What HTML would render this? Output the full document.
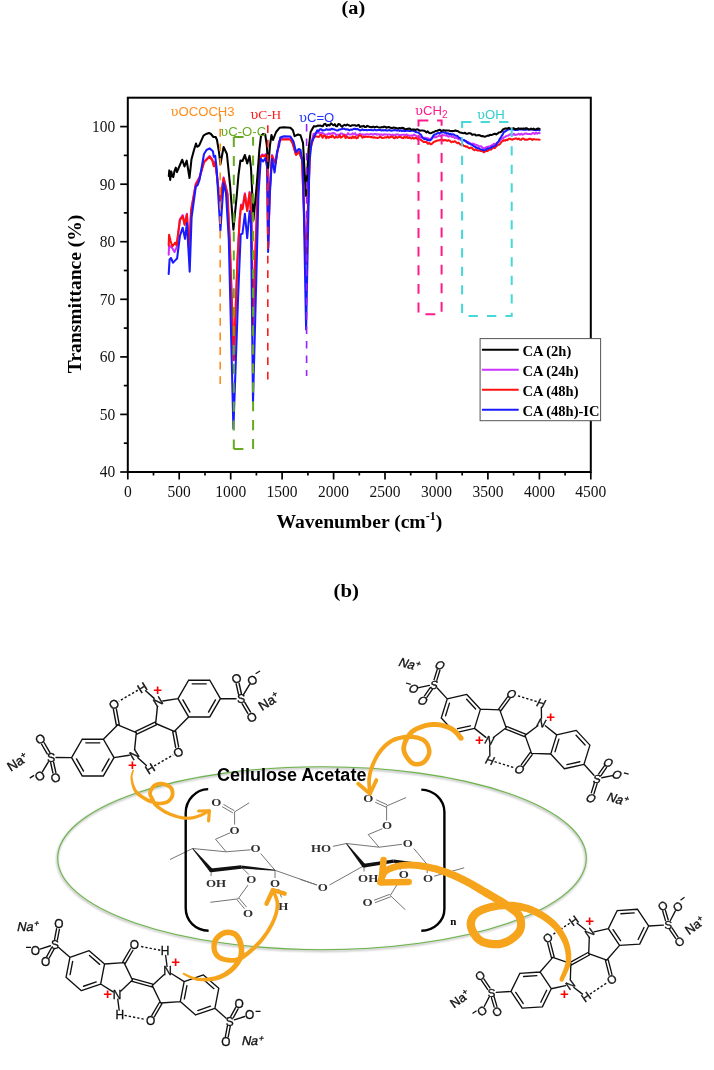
<!DOCTYPE html>
<html><head><meta charset="utf-8"><title>FTIR and interaction scheme</title>
<style>html,body{margin:0;padding:0;background:#fff;}svg{display:block;}</style></head>
<body><svg width="714" height="1070" viewBox="0 0 714 1070">
<rect width="714" height="1070" fill="#fff"/>
<text x="353.4" y="14.0" font-family="'Liberation Serif','Times New Roman',serif" font-weight="bold" font-size="18" text-anchor="middle" textLength="23.6" lengthAdjust="spacingAndGlyphs">(a)</text>
<g fill="none" stroke-width="2.05" stroke-linejoin="round" stroke-linecap="round">
<polyline points="168.7,254.8 169.1,245.4 172.4,248.2 174.5,252 176.6,247.3 179.9,219.3 182.7,215.1 184.6,224 186.9,213.7 189.2,251.1 191.1,209.9 195.8,183.8 199.5,177.1 204,161.5 209.6,155.9 212.4,159.7 213.8,165.3 215.2,161.5 217.1,176.5 219.9,202.1 223.6,177.4 227.4,193.3 229.7,239.1 233.8,359.4 237.5,259.1 239.7,218.5 241.1,204.5 242.5,208.3 244.9,193.3 247.2,210.1 249.6,191.9 251.4,218.5 253,324.1 255.5,249.1 257.5,195.1 260.3,156.9 262.2,154.5 264,155.5 265.9,154.1 267.3,162.5 268.1,247.1 269.8,189.1 272,155 274.3,160.6 275.5,162.6 279.1,141.3 281,138.6 290.4,138.6 292.6,142.5 296,154.1 299,151.1 302,159.1 306,263 310,149.1 313.5,134 317,132.6 318.3,132.7 319.6,133.4 320.9,132.9 322.2,132.8 323.5,133.6 324.8,134.8 326.1,134.6 327.4,134.5 328.7,133.3 330,134.1 331.2,133.5 332.4,133.3 333.6,133.1 334.8,133.4 336,135 337.2,134.8 338.4,134.8 339.6,134.7 340.8,133.4 342,133.6 343.2,134.4 344.4,134.6 345.6,134.9 346.8,135 348,133.2 349.2,134.4 350.4,134.5 351.6,134.2 352.8,133.4 354,134.1 355.2,133.2 356.4,135.2 357.6,135 358.8,134.3 360,133.7 361.2,135.2 362.4,134.3 363.6,134.7 364.8,134.7 366,134.3 367.2,134.2 368.4,134.5 369.6,134.3 370.8,134 372,134.2 373.2,134.8 374.4,133.9 375.6,134 376.8,134.7 378,134.3 379.2,134.6 380.4,134.6 381.6,134.4 382.8,135.3 384,134.3 385.2,134.6 386.4,134.4 387.6,134.9 388.8,134.5 390,134.6 391.2,135.1 392.4,134.6 393.6,134.9 394.8,135.4 396,134.4 397.2,134.4 398.4,134.6 399.6,135.3 400.8,135.1 402,134.7 403.2,134.8 404.4,134.7 405.6,135 406.8,134.5 408,135.3 409.2,135.6 410.4,135.7 411.6,135.4 412.8,135.7 414,134.6 415.3,135.3 416.7,136.4 418,136.5 419.2,136.5 420.4,137.5 421.6,137.4 422.8,138 424,137.8 425.2,137.8 426.4,138.3 427.6,138.2 428.8,138.7 430,139.6 431.2,138.4 432.4,137.6 433.6,137.3 434.8,137 436,137.3 437.2,136.5 438.4,136.1 439.6,135.5 440.8,136.2 442,135.2 443.3,135.2 444.6,135.2 445.9,135.4 447.2,135.8 448.5,136.6 449.8,136.2 451.1,136.3 452.4,137 453.7,137 455,138.1 456.2,137.5 457.4,138.4 458.6,139.2 459.9,139.2 461.1,140.3 462.3,140.1 463.5,140.3 464.7,140.9 465.9,140.9 467.1,141.8 468.4,142.1 469.6,143.3 470.8,143.7 472,143.7 473.2,143.6 474.4,144.3 475.6,144.7 476.8,145.1 478,145.5 479.2,146.7 480.4,146.3 481.6,146.6 482.8,148.1 484,148.1 485.2,148.2 486.4,147 487.6,147.2 488.8,146.5 490,146.2 491.2,145.7 492.4,145 493.6,144.1 494.8,143.8 496,144.1 497.3,143.1 498.7,142 500,140.2 501.3,139.4 502.7,138.5 504,137.2 505.2,136.9 506.4,136 507.6,135.7 508.8,135.2 510,134.2 511.2,135 512.5,135 513.8,133.9 515,134.9 516.2,134.8 517.5,134.5 518.8,133.7 520,134.6 521.2,133.7 522.5,134.6 523.8,134.2 525,133.5 526.2,133.5 527.4,134 528.6,133.9 529.9,134 531.1,134.2 532.3,133.3 533.5,132.9 534.7,134 536,132.8 537.2,133.8 538.4,132.8 539.6,133.2" stroke="#cc33ff"/>
<polyline points="168.7,245.4 169.1,234.7 170.5,240.7 172.4,246.4 175.2,242.6 176.6,245.4 179.9,220.2 182.7,216 184.6,224.9 186.9,214.6 189.2,252 191.1,210.8 195.8,184.7 199.5,178 204,162.4 209.6,156.8 212.4,160.6 213.8,166.2 215.2,162.4 217.1,177.4 219.9,203 223.6,178.3 227.4,194.2 229.7,240 233.8,360.3 237.5,260 239.7,219.4 241.1,205.4 242.5,209.2 244.9,194.2 247.2,211 249.6,192.8 251.4,219.4 253,325 255.5,250 257.5,196 260.3,157.8 262.2,155.4 264,156.4 265.9,155 267.3,163.4 268.1,248 269.8,190 272,155.9 274.3,161.5 275.5,163.5 279.1,142.2 281,139.5 290.4,139.5 292.6,143.4 296,155 299,152 302,160 306,263.9 310,150 314,136.2 315.2,136.7 316.5,136.4 317.7,136.8 318.9,137 320.2,135.1 321.4,134.9 322.6,137.8 323.8,135.8 325.1,135.7 326.3,138.3 327.5,136.5 328.8,137.8 330,136.5 331.2,137.1 332.4,135.4 333.6,137.1 334.8,137.9 336,136.7 337.2,137.5 338.4,137.2 339.6,135.2 340.8,137.6 342,137 343.2,136 344.4,135.1 345.6,138 346.8,136.6 348,137.5 349.2,138 350.4,137.5 351.6,138.2 352.8,136.4 354,137.8 355.2,136.6 356.4,138.3 357.6,138.1 358.8,135.4 360,135.6 361.2,135.8 362.4,137.7 363.6,136.7 364.8,137.1 366,136.5 367.2,136.9 368.4,136.7 369.6,136.7 370.8,137.1 372,137.1 373.2,137.7 374.4,137.3 375.6,137.8 376.8,137.7 378,137.9 379.2,137.4 380.4,136.5 381.6,137.7 382.8,137.9 384,137.8 385.2,137.3 386.4,137.5 387.6,136.6 388.8,137.8 390,137.3 391.2,136.8 392.4,136.5 393.6,137.9 394.8,138.2 396,136.6 397.2,137.9 398.4,137.2 399.6,136.8 400.8,137.1 402,137.9 403.2,138.1 404.4,136.7 405.6,137.7 406.8,136.7 408,138 409.2,137.3 410.4,138.3 411.6,138.5 412.8,137.7 414,138.6 415.3,138 416.7,138.1 418,139.7 419.4,139.1 420.8,139.8 422.2,140.9 423.6,142 425,141.9 426.4,142 427.9,143.7 429.4,143 430.8,144.4 432.2,143.7 433.5,142.1 434.9,141.5 436.2,141 437.6,140.6 439.1,140.2 440.5,139.9 442,139.7 443.3,140.6 444.6,140 445.9,140.2 447.2,140.9 448.5,140.3 449.8,140.7 451.1,142.2 452.4,141.6 453.7,141.9 455,141.2 456.2,142.4 457.4,143.2 458.6,142.7 459.9,144.2 461.1,144.7 462.3,144.2 463.5,145.7 464.7,145.9 465.9,146.7 467.1,146.6 468.4,147.7 469.6,148.3 470.8,147.5 472,148 473.2,149.4 474.4,150.3 475.6,149.3 476.8,150 478,150.6 479.2,150.5 480.4,150.9 481.6,151.1 482.8,151.5 484,152.3 485.2,151.2 486.4,150.9 487.6,151.1 488.8,149.2 490,149.7 491.2,149.5 492.4,148.3 493.6,147.6 494.8,148.1 496,146.6 497.3,145.4 498.7,144.8 500,144.1 501.3,141.9 502.7,141.2 504,140.1 505.2,140.7 506.4,139.7 507.6,140.2 508.8,138.7 510,138.7 511.2,139.3 512.5,139.7 513.8,139 515,138.6 516.2,138.4 517.5,139.2 518.8,138.6 520,139.7 521.2,139.8 522.5,138.6 523.8,138.8 525,139.8 526.2,139.5 527.4,139.8 528.6,139 529.9,138.7 531.1,139 532.3,140 533.5,139.1 534.7,139.3 536,139.4 537.2,139.5 538.4,139.5 539.6,139.7" stroke="#ff1010"/>
<polyline points="168.7,273.9 169.6,259.4 171,258 172.9,262.7 175.2,260.4 177.1,258.5 179.9,236 182.7,227.7 185,238.9 186.9,223 189.7,271.6 191.6,217.4 195.8,186.5 197.6,185.1 199.5,180 204,154 206.5,150 209.6,148.4 212.9,151.2 213.8,156.8 215.2,155.9 216.6,168 220.4,230.7 223.6,183 226,193.3 228.8,240 233.4,428.6 238,300 240.7,234.4 242.5,233.5 244.9,213.8 247.2,238.1 249.6,211 251,224.1 253,402 256,290 258.4,196 260.8,158.7 263.1,161.5 265.4,158.2 267.3,168 268.1,252 269.5,200 272,158.7 274.6,172.5 277,152 279.1,145.6 280.3,137.5 284,136.2 290.4,136.5 293.5,141.5 296,152 298.8,149 300.5,150 303,165 306.1,329.5 309.4,162.4 311.6,142.2 317.3,130.3 318.6,131.1 319.9,129.3 321.2,129.2 322.5,130.5 323.9,130.2 325.2,130 326.5,129.2 327.8,129.7 329.1,129.6 330.4,129.6 331.6,128.8 332.9,129.3 334.2,129.3 335.4,129.9 336.7,130.4 338,130.4 339.2,129.6 340.5,129.4 341.7,129.1 343,128.7 344.3,128.7 345.5,129.5 346.8,129.3 348.1,129.4 349.4,130.3 350.8,129.6 352.1,129.7 353.4,129.1 354.7,128.7 356,129.3 357.4,128.9 358.7,129.6 360,130.5 361.2,130 362.4,129.3 363.6,130.1 364.8,130 366,130 367.2,130.2 368.4,130 369.6,130.1 370.8,129.7 372,130.3 373.2,130.3 374.4,129.5 375.6,130.2 376.8,130.2 378,129.9 379.2,130 380.4,130 381.6,130.5 382.8,130.1 384,130.4 385.2,130 386.4,130.5 387.6,130.6 388.8,130.1 390,130.3 391.2,130.7 392.4,130.5 393.6,130.3 394.8,130.1 396,130.2 397.2,130.6 398.4,130.1 399.6,130.9 400.8,130.3 402,131 403.2,130.4 404.4,131.1 405.6,130.9 406.8,130.8 408,130.8 409.2,131 410.4,131 411.6,130.7 412.8,130.7 414,131 415.5,132 416.9,132.3 418.4,132.4 419.6,133.9 420.8,134.6 422.1,137 423.5,138.4 424.8,139.3 426.2,139.1 427.5,140.1 428.9,140.1 430.2,140.4 431.6,139 433,136.2 434.4,134.5 435.7,134.5 436.9,133.5 438.2,133.1 439.5,133.4 440.7,132.6 442,132.5 443.2,132.1 444.4,132.7 445.7,132.8 446.9,133.6 448.1,133.2 449.3,134.4 450.5,133.7 451.7,134.7 453,134.3 454.2,134.8 455.4,135.6 456.6,135.7 457.8,136.4 459,137.7 460.2,138.1 461.4,138.5 462.6,140.1 463.8,140 465,140.6 466.2,141.6 467.4,142.6 468.6,143.5 469.8,143.6 471,144.5 472.2,144.9 473.5,145.9 474.8,146.8 476.1,147.3 477.4,148.1 478.8,148.5 480.1,149.2 481.4,149.6 482.7,149.9 484,150.2 485.3,150.1 486.6,149.2 487.9,148.4 489.2,148.2 490.6,148 491.9,146.7 493.2,146.6 494.5,145.9 495.8,145.4 497.2,142.8 498.6,141.4 500,138.5 501.4,136.6 502.8,134.2 504.2,131.5 505.4,131.4 506.7,130.4 507.9,129.7 509.2,129 510.4,129.2 511.6,129.1 512.8,129.6 514.1,129.5 515.3,130 516.5,129.9 517.7,130 518.9,129.2 520.1,129.4 521.4,129.3 522.6,129.6 523.8,129.6 525,129.8 526.2,129.8 527.4,129.4 528.6,129.6 529.9,129.8 531.1,129.4 532.3,129.5 533.5,129.9 534.7,129.7 536,130.4 537.2,130 538.4,129.9 539.6,130.4" stroke="#1a1aff"/>
<polyline points="168.8,176 169.3,170.4 170.2,179.9 171.3,171.5 172.2,176 173.3,177.1 174.5,171 175.8,167.6 176.9,172.1 179.5,166 182.2,159.7 184.5,166.5 186.7,160.6 189.5,178 191.5,159.2 194,150 196,143.5 197.1,146.8 199.1,145.7 203.5,135.6 206,134 209,133 211,134 213.4,137 215.7,137 217,140 219,152.1 220.4,164.3 223.6,147 226.9,154 230.2,186.7 233.4,229.7 236.7,196.1 238.5,175 240.4,160.6 242.5,161 244.9,155 247.2,163.4 249.6,155.9 251,168 253.5,220 256.6,186.7 259.4,149.3 261,136 263,134 265.2,134.5 266.8,145 268.2,168 270,145 271.5,135 273,140 276.1,132 279.5,127.8 283.7,127.3 290.4,127.8 292.9,130.3 294.6,136.2 298,134.5 300.5,135.3 303,142.9 306,196 308.5,150 310.6,132 314,126.1 315.2,126.5 316.5,126.3 317.8,125.5 319,125.7 320.2,125.5 321.5,125.9 322.8,126.2 324,124.2 325.4,123.9 326.8,126 328.2,124.8 329.6,125.5 331,123.4 332.4,124.5 333.6,125.3 334.8,124.2 336,126.2 337.2,126.2 338.4,124.1 339.6,124.2 340.8,125.7 342.1,126.8 343.4,125.4 344.6,124.9 345.9,125.5 347.2,124.5 348.5,125.1 349.8,125.7 351,125.9 352.3,125.2 353.6,125.2 354.9,125.2 356.2,125.9 357.4,125.5 358.7,124.8 360,127 361.2,126.3 362.4,126.4 363.6,125.8 364.8,127 366,126.9 367.2,125.9 368.4,126.3 369.6,126.9 370.8,126.9 372,127.3 373.2,126.6 374.4,127.2 375.6,127.1 376.8,126.6 378,127.1 379.2,127.5 380.4,127.5 381.6,127.1 382.8,127.3 384,126.6 385.2,126.9 386.4,127.7 387.6,127.3 388.8,127 390,127.6 391.2,127.9 392.4,127.9 393.6,127.6 394.8,127.8 396,128 397.2,128.4 398.4,128.2 399.6,128.1 400.8,128.3 402,127.7 403.2,127.9 404.4,128.9 405.6,129.3 406.8,128.9 408,128.7 409.2,128.5 410.4,129 411.6,129.8 412.8,129.6 414,129.4 415.5,130 416.9,129.3 418.4,129.8 419.8,130.7 421.2,130.5 422.6,130.6 424,130.7 425.2,131.4 426.5,132.4 427.7,131.4 429,132.8 430.2,133.2 431.5,132.9 432.7,132.3 434,131.9 435.5,131.1 437.1,130.8 438.6,130.2 439.9,129.7 441.2,130.9 442.5,130.6 443.8,130.1 445.1,130.6 446.4,130.6 447.6,130.5 448.9,130.6 450.2,130.9 451.5,131.1 452.8,131.1 454.1,131 455.4,130.4 456.6,131 457.8,131.1 459,131.9 460.2,132.6 461.4,132.7 462.6,133 463.8,133.2 465,132.7 466.2,133.8 467.4,133.8 468.6,133.2 469.8,133.3 471,133.6 472.2,134.9 473.5,134.4 474.8,134.4 476.1,135.4 477.4,135.3 478.8,135.1 480.1,135.5 481.4,136.2 482.7,136 484,136.4 485.2,136.7 486.4,136.1 487.7,135.6 488.9,135.6 490.1,134.7 491.3,134.9 492.5,134.7 493.7,134.1 495,133.7 496.2,134.5 497.4,133.7 498.8,132.5 500.1,132.2 501.5,131.6 502.8,129.7 504.2,128.8 505.9,128.4 507.5,128.6 508.8,127.9 510,128.7 511.2,128.7 512.5,128.6 513.8,128.2 515,129.3 516.2,129 517.5,128.7 518.7,128.3 519.9,128.9 521.1,128.5 522.4,128.8 523.6,128.5 524.8,128.9 526.1,128.1 527.3,128.5 528.5,129.4 529.8,129.3 531,128.5 532.2,129.3 533.5,128.6 534.7,129.5 535.9,129.2 537.1,128.8 538.4,128.5 539.6,128.9" stroke="#000"/>
</g>
<path d="M220.2,114.3V122.1 M220.2,128.8V136.7 M220.2,143.4V151.2 M220.2,158V165.8 M220.2,172.5V180.3 M220.2,187.1V194.9 M220.2,201.6V209.4 M220.2,216.2V224 M220.2,230.7V238.5 M220.2,245.3V253.1 M220.2,259.8V267.6 M220.2,274.4V282.2 M220.2,288.9V296.7 M220.2,303.5V311.3 M220.2,318V325.8 M220.2,332.6V340.4 M220.2,347.1V354.9 M220.2,361.7V369.5 M220.2,376.2V384" stroke="#ff8c1a" stroke-width="1.6" fill="none"/>
<path d="M267.8,125.2V133.1 M267.8,139.7V147.6 M267.8,154.2V162.1 M267.8,168.7V176.6 M267.8,183.2V191.1 M267.8,197.7V205.6 M267.8,212.2V220.1 M267.8,226.7V234.6 M267.8,241.2V249.1 M267.8,255.7V263.6 M267.8,270.2V278.1 M267.8,284.7V292.6 M267.8,299.2V307.1 M267.8,313.7V321.6 M267.8,328.2V336.1 M267.8,342.7V350.6 M267.8,357.2V365.1 M267.8,371.7V379.4" stroke="#ff1a1a" stroke-width="1.6" fill="none"/>
<path d="M306.6,123.9V131.4 M306.6,138.4V145.9 M306.6,152.9V160.4 M306.6,167.3V174.8 M306.6,181.8V189.3 M306.6,196.3V203.8 M306.6,210.8V218.3 M306.6,225.3V232.8 M306.6,239.7V247.2 M306.6,254.2V261.7 M306.6,268.7V276.2 M306.6,283.2V290.7 M306.6,297.7V305.2 M306.6,312.1V319.6 M306.6,326.6V334.1 M306.6,341.1V348.6 M306.6,355.6V363.1 M306.6,370.1V376.1" stroke="#9922ff" stroke-width="1.6" fill="none"/>
<path d="M233.8,137H243.6 M233.8,449H243.4 M233.8,137V147.1 M233.8,155.9V166 M233.8,174.8V184.9 M233.8,193.7V203.8 M233.8,212.6V222.7 M233.8,231.5V241.6 M233.8,250.4V260.5 M233.8,269.3V279.4 M233.8,288.2V298.3 M233.8,307.1V317.2 M233.8,326V336.1 M233.8,344.9V355 M233.8,363.8V373.9 M233.8,382.7V392.8 M233.8,401.6V411.7 M233.8,420.5V430.6 M233.8,439.4V449 M253.1,137V145.7 M253.1,155.5V165.6 M253.1,174.4V184.5 M253.1,193.3V203.4 M253.1,212.2V222.3 M253.1,231.1V241.2 M253.1,250V260.1 M253.1,268.9V279 M253.1,287.8V297.9 M253.1,306.7V316.8 M253.1,325.6V335.7 M253.1,344.5V354.6 M253.1,363.4V373.5 M253.1,382.3V392.4 M253.1,401.2V411.3 M253.1,420.1V430.2 M253.1,439V449.1" stroke="#66aa22" stroke-width="2" fill="none"/>
<rect x="418.5" y="120.4" width="23.1" height="193.8" fill="none" stroke="#ff1a8c" stroke-width="2" stroke-dasharray="9.9,8.7"/>
<rect x="462.1" y="121.9" width="49.6" height="194" fill="none" stroke="#44d8d8" stroke-width="2" stroke-dasharray="9.3,9.2"/>
<text x="170.6" y="116.0" font-size="13.1" fill="#ff8c1a" font-family="'Liberation Sans',Arial,sans-serif"><tspan font-family="'DejaVu Serif',serif">υ</tspan>OCOCH3</text>
<text x="220.3" y="135.6" font-size="13.1" fill="#66aa22" font-family="'Liberation Sans',Arial,sans-serif"><tspan font-family="'DejaVu Serif',serif">υ</tspan>C-O-C</text>
<text x="250.2" y="118.8" font-size="13.3" fill="#ff1a1a" font-family="'Liberation Serif','Times New Roman',serif"><tspan font-family="'DejaVu Serif',serif">υ</tspan>C-H</text>
<text x="299.0" y="122.3" font-size="13.1" fill="#2233ff" font-family="'Liberation Sans',Arial,sans-serif"><tspan font-family="'DejaVu Serif',serif">υ</tspan>C=O</text>
<text x="415.0" y="114.6" font-size="13.1" fill="#ff1a8c" font-family="'Liberation Sans',Arial,sans-serif"><tspan font-family="'DejaVu Serif',serif">υ</tspan>CH<tspan font-size="10" dy="3.6">2</tspan></text>
<text x="477.0" y="118.8" font-size="13.1" fill="#33cccc" font-family="'Liberation Sans',Arial,sans-serif"><tspan font-family="'DejaVu Serif',serif">υ</tspan>OH</text>
<rect x="127.8" y="97.7" width="463" height="374.3" fill="none" stroke="#000" stroke-width="2"/>
<line x1="120.2" y1="472" x2="127.8" y2="472" stroke="#000" stroke-width="1.7"/>
<line x1="123.8" y1="443.2" x2="127.8" y2="443.2" stroke="#000" stroke-width="1.7"/>
<line x1="120.2" y1="414.4" x2="127.8" y2="414.4" stroke="#000" stroke-width="1.7"/>
<line x1="123.8" y1="385.6" x2="127.8" y2="385.6" stroke="#000" stroke-width="1.7"/>
<line x1="120.2" y1="356.9" x2="127.8" y2="356.9" stroke="#000" stroke-width="1.7"/>
<line x1="123.8" y1="328.1" x2="127.8" y2="328.1" stroke="#000" stroke-width="1.7"/>
<line x1="120.2" y1="299.3" x2="127.8" y2="299.3" stroke="#000" stroke-width="1.7"/>
<line x1="123.8" y1="270.5" x2="127.8" y2="270.5" stroke="#000" stroke-width="1.7"/>
<line x1="120.2" y1="241.7" x2="127.8" y2="241.7" stroke="#000" stroke-width="1.7"/>
<line x1="123.8" y1="212.9" x2="127.8" y2="212.9" stroke="#000" stroke-width="1.7"/>
<line x1="120.2" y1="184.2" x2="127.8" y2="184.2" stroke="#000" stroke-width="1.7"/>
<line x1="123.8" y1="155.4" x2="127.8" y2="155.4" stroke="#000" stroke-width="1.7"/>
<line x1="120.2" y1="126.6" x2="127.8" y2="126.6" stroke="#000" stroke-width="1.7"/>
<line x1="127.8" y1="472" x2="127.8" y2="479.5" stroke="#000" stroke-width="1.7"/>
<line x1="153.5" y1="472" x2="153.5" y2="475.5" stroke="#000" stroke-width="1.7"/>
<line x1="179.2" y1="472" x2="179.2" y2="479.5" stroke="#000" stroke-width="1.7"/>
<line x1="205" y1="472" x2="205" y2="475.5" stroke="#000" stroke-width="1.7"/>
<line x1="230.7" y1="472" x2="230.7" y2="479.5" stroke="#000" stroke-width="1.7"/>
<line x1="256.4" y1="472" x2="256.4" y2="475.5" stroke="#000" stroke-width="1.7"/>
<line x1="282.1" y1="472" x2="282.1" y2="479.5" stroke="#000" stroke-width="1.7"/>
<line x1="307.9" y1="472" x2="307.9" y2="475.5" stroke="#000" stroke-width="1.7"/>
<line x1="333.6" y1="472" x2="333.6" y2="479.5" stroke="#000" stroke-width="1.7"/>
<line x1="359.3" y1="472" x2="359.3" y2="475.5" stroke="#000" stroke-width="1.7"/>
<line x1="385" y1="472" x2="385" y2="479.5" stroke="#000" stroke-width="1.7"/>
<line x1="410.7" y1="472" x2="410.7" y2="475.5" stroke="#000" stroke-width="1.7"/>
<line x1="436.5" y1="472" x2="436.5" y2="479.5" stroke="#000" stroke-width="1.7"/>
<line x1="462.2" y1="472" x2="462.2" y2="475.5" stroke="#000" stroke-width="1.7"/>
<line x1="487.9" y1="472" x2="487.9" y2="479.5" stroke="#000" stroke-width="1.7"/>
<line x1="513.6" y1="472" x2="513.6" y2="475.5" stroke="#000" stroke-width="1.7"/>
<line x1="539.4" y1="472" x2="539.4" y2="479.5" stroke="#000" stroke-width="1.7"/>
<line x1="565.1" y1="472" x2="565.1" y2="475.5" stroke="#000" stroke-width="1.7"/>
<line x1="590.8" y1="472" x2="590.8" y2="479.5" stroke="#000" stroke-width="1.7"/>
<g font-family="'Liberation Serif','Times New Roman',serif" font-size="17.5" fill="#111"><text x="115.3" y="477.3" text-anchor="end" textLength="15.5" lengthAdjust="spacingAndGlyphs">40</text>
<text x="115.3" y="419.7" text-anchor="end" textLength="15.5" lengthAdjust="spacingAndGlyphs">50</text>
<text x="115.3" y="362.2" text-anchor="end" textLength="15.5" lengthAdjust="spacingAndGlyphs">60</text>
<text x="115.3" y="304.6" text-anchor="end" textLength="15.5" lengthAdjust="spacingAndGlyphs">70</text>
<text x="115.3" y="247" text-anchor="end" textLength="15.5" lengthAdjust="spacingAndGlyphs">80</text>
<text x="115.3" y="189.5" text-anchor="end" textLength="15.5" lengthAdjust="spacingAndGlyphs">90</text>
<text x="115.3" y="131.9" text-anchor="end" textLength="23.2" lengthAdjust="spacingAndGlyphs">100</text>
<text x="127.8" y="497.1" text-anchor="middle" textLength="7.8" lengthAdjust="spacingAndGlyphs">0</text>
<text x="179.2" y="497.1" text-anchor="middle" textLength="23.2" lengthAdjust="spacingAndGlyphs">500</text>
<text x="230.7" y="497.1" text-anchor="middle" textLength="31" lengthAdjust="spacingAndGlyphs">1000</text>
<text x="282.1" y="497.1" text-anchor="middle" textLength="31" lengthAdjust="spacingAndGlyphs">1500</text>
<text x="333.6" y="497.1" text-anchor="middle" textLength="31" lengthAdjust="spacingAndGlyphs">2000</text>
<text x="385" y="497.1" text-anchor="middle" textLength="31" lengthAdjust="spacingAndGlyphs">2500</text>
<text x="436.5" y="497.1" text-anchor="middle" textLength="31" lengthAdjust="spacingAndGlyphs">3000</text>
<text x="487.9" y="497.1" text-anchor="middle" textLength="31" lengthAdjust="spacingAndGlyphs">3500</text>
<text x="539.4" y="497.1" text-anchor="middle" textLength="31" lengthAdjust="spacingAndGlyphs">4000</text>
<text x="590.8" y="497.1" text-anchor="middle" textLength="31" lengthAdjust="spacingAndGlyphs">4500</text></g>
<text transform="translate(81,294) rotate(-90)" text-anchor="middle" font-family="'Liberation Serif','Times New Roman',serif" font-weight="bold" font-size="19.5">Transmittance (%)</text>
<text x="359.3" y="528.2" text-anchor="middle" font-family="'Liberation Serif','Times New Roman',serif" font-weight="bold" font-size="19.6">Wavenumber (cm<tspan font-size="12" dy="-8">-1</tspan><tspan dy="8">)</tspan></text>
<rect x="480.1" y="338.6" width="120.5" height="82.1" fill="#fff" stroke="#555" stroke-width="1"/>
<line x1="481.9" y1="349.7" x2="518.7" y2="349.7" stroke="#000" stroke-width="1.9"/>
<text x="522.5" y="356" font-family="'Liberation Serif','Times New Roman',serif" font-weight="bold" font-size="14.5">CA (2h)</text>
<line x1="481.9" y1="369.7" x2="518.7" y2="369.7" stroke="#cc33ff" stroke-width="1.9"/>
<text x="522.5" y="376" font-family="'Liberation Serif','Times New Roman',serif" font-weight="bold" font-size="14.5">CA (24h)</text>
<line x1="481.9" y1="389.8" x2="518.7" y2="389.8" stroke="#ff1010" stroke-width="1.9"/>
<text x="522.5" y="396.1" font-family="'Liberation Serif','Times New Roman',serif" font-weight="bold" font-size="14.5">CA (48h)</text>
<line x1="481.9" y1="409.8" x2="518.7" y2="409.8" stroke="#1a1aff" stroke-width="1.9"/>
<text x="522.5" y="416.1" font-family="'Liberation Serif','Times New Roman',serif" font-weight="bold" font-size="14.5">CA (48h)-IC</text>
<text x="346.3" y="597.0" font-family="'Liberation Serif','Times New Roman',serif" font-weight="bold" font-size="18" text-anchor="middle" textLength="25.4" lengthAdjust="spacingAndGlyphs">(b)</text>
<defs><filter id="sh" x="-10%" y="-10%" width="120%" height="130%"><feGaussianBlur stdDeviation="0.9"/></filter></defs>
<ellipse cx="321.6" cy="859.4" rx="264.3" ry="91.5" fill="none" stroke="#666" stroke-width="1.5" filter="url(#sh)" opacity="0.55"/>
<ellipse cx="322" cy="858.2" rx="264.3" ry="91.5" fill="none" stroke="#6ab446" stroke-width="1.05"/>
<path d="M234.6,811.9L249.2,802.8 M234.6,811.9L234.6,824.6 M230.1,832.8L215.5,839.2 M215.5,839.2L226.2,851.8 M192.6,848.5L226.2,851.8 M226.2,851.8L250.6,849.8 M260.7,853.5L275,870.3 M275,870.3L316.9,885 M211.1,870.3L211.1,876 M241.3,867L248.9,874.6 M248,885L238,898.9 M238,898.9L210.3,902.3 M275,870.3L275,878 M278.5,889L281.5,897.5 M192.6,848.5L170,859.5 M386.6,806L406,797.6 M386.6,806L386.6,820.5 M382.4,828.7L368.2,834.6 M368.2,834.6L379.1,847.2 M346.3,843.5L379.1,847.2 M379.1,847.2L402,844.3 M413.8,848.5L427.2,864.5 M332.9,846.4L346.3,843.5 M364,865.7L364,871.5 M364,865.7L329.5,885 M316.9,885L300,879.3 M393.6,861.1L400.3,869.8 M397.8,883.5L390.3,895.5 M390.3,895.5L405.4,909.8 M427.2,864.5L427.2,873 M434,876.2L464.2,867.8 M222.14,806.62L233.04,813.02 M223.46,804.38L234.36,810.78 M237,899.73L244.6,908.83 M239,898.07L246.6,907.17 M375.16,802.18L386.06,807.18 M376.24,799.82L387.14,804.82 M389.84,894.28L374.04,900.28 M390.76,896.72L374.96,902.72" stroke="#6e6e6e" stroke-width="0.95" fill="none"/>
<polygon points="192.3,848.76 209.58,871.59 212.62,869.01 192.9,848.24" fill="#111"/>
<polygon points="211.31,872.19 241.48,868.69 241.12,865.31 210.89,868.41" fill="#111"/>
<polygon points="241.14,868.59 274.95,870.8 275.05,869.8 241.46,865.41" fill="#111"/>
<polygon points="345.99,843.75 362.44,866.95 365.56,864.45 346.61,843.25" fill="#111"/>
<polygon points="364.29,867.58 393.86,862.78 393.34,859.42 363.71,863.82" fill="#111"/>
<polygon points="393.44,862.69 427.15,865 427.25,864 393.76,859.51" fill="#111"/>
<circle cx="211.1" cy="870.3" r="1.9" fill="#111"/><circle cx="364" cy="865.7" r="1.9" fill="#111"/>
<g font-family="'Liberation Serif','Times New Roman',serif" font-weight="bold" font-size="11" fill="#2e2e2e" text-anchor="middle"><text transform="translate(216.4,805.5) scale(1.18,1)">O</text><text transform="translate(234.6,833.8) scale(1.18,1)">O</text><text transform="translate(255.6,852.2) scale(1.18,1)">O</text><text transform="translate(216.1,887.1) scale(1.18,1)">OH</text><text transform="translate(251.4,882.9) scale(1.18,1)">O</text><text transform="translate(248.1,916.9) scale(1.18,1)">O</text><text transform="translate(275,887.1) scale(1.18,1)">O</text><text transform="translate(283.4,910.2) scale(1.18,1)">H</text><text transform="translate(368.2,801.9) scale(1.18,1)">O</text><text transform="translate(387.1,828.7) scale(1.18,1)">O</text><text transform="translate(407.9,847.1) scale(1.18,1)">O</text><text transform="translate(321.1,851.8) scale(1.18,1)">HO</text><text transform="translate(368.2,882) scale(1.18,1)">OH</text><text transform="translate(322.8,891.3) scale(1.18,1)">O</text><text transform="translate(403.7,878.2) scale(1.18,1)">O</text><text transform="translate(367.6,906.3) scale(1.18,1)">O</text><text transform="translate(428.1,882.1) scale(1.18,1)">O</text></g>
<path d="M208.2,789.1 C195.5,789.5 185.7,800 185.7,813 V908 C185.7,921 195.5,930.5 208.6,930.8 M421.3,789.6 C434,790 444.4,800 444.4,812 V909 C444.4,921 434,930.5 421.3,930.8" fill="none" stroke="#000" stroke-width="2.4"/>
<text x="453.3" y="925.2" font-family="'Liberation Serif','Times New Roman',serif" font-weight="bold" font-size="11" text-anchor="middle">n</text>
<path d="M82.2,739.24L103.4,739.24 M209.8,716.96L188.6,716.96 M103.4,739.24L114,757.6 M188.6,716.96L178,698.6 M114,757.6L103.4,775.96 M178,698.6L188.6,680.24 M103.4,775.96L82.2,775.96 M188.6,680.24L209.8,680.24 M82.2,775.96L71.6,757.6 M209.8,680.24L220.4,698.6 M71.6,757.6L82.2,739.24 M220.4,698.6L209.8,716.96 M103.4,739.24L117.8,724.8 M188.6,716.96L174.2,731.4 M117.8,724.8L136.3,732.7 M174.2,731.4L155.7,723.5 M136.3,732.7L134.6,749.53 M155.7,723.5L157.4,706.67 M129.16,755.26L114,757.6 M162.84,700.94L178,698.6 M119.27,724.52L116.34,708.93 M116.33,725.08L113.39,709.49 M172.73,731.68L175.66,747.27 M175.67,731.12L178.61,746.71 M137.83,757.83L146.37,765.44 M154.17,698.37L145.63,690.76 M71.6,757.6L56,757.52 M220.4,698.6L236,698.68 M49.8,752.42L44.2,742.75 M47.2,753.92L41.61,744.25 M242.2,703.78L247.8,713.45 M244.8,702.28L250.39,711.95 M50.62,762.71L52.91,772.95 M53.55,762.05L55.83,772.3 M241.38,693.49L239.09,683.25 M238.45,694.15L236.17,683.9 M48.41,761.78L42.49,771.55 M243.59,694.42L249.51,684.65 M136.94,734.06L156.34,724.86 M135.66,731.34L155.06,722.14 M85.8,742.84L99.8,742.84 M109.08,758.92L102.08,771.04 M83.52,771.04L76.52,758.92 M192.2,683.84L206.2,683.84 M215.48,699.92L208.48,712.04 M189.92,712.04L182.92,699.92" stroke="#111" stroke-width="1.42" fill="none" stroke-linecap="round"/>
<path d="M154.21,765.94L173.17,754.96 M137.79,690.26L118.83,701.24" stroke="#111" stroke-width="1.49" fill="none" stroke-dasharray="2.3,2"/>
<path d="M29.72,778.17L34.13,775.42 M255.61,673.77L260.02,671.01" stroke="#111" stroke-width="1.3"/>
<g font-family="'Liberation Sans',Arial,sans-serif" font-size="12.4" fill="#111" stroke="#111" stroke-width="0.35" text-anchor="middle"><text transform="translate(113.9,704.1) rotate(-32)" y="4.46">O</text><text transform="translate(134.1,754.5) rotate(-32)" y="4.46">N</text><text transform="translate(149.8,768.5) rotate(-32)" y="4.46">H</text><text transform="translate(51,757.5) rotate(0)" y="4.46">S</text><text transform="translate(40.3,739) rotate(-32)" y="4.46">O</text><text transform="translate(55.5,777.7) rotate(-32)" y="4.46">O</text><text transform="translate(39.8,776) rotate(-32)" y="4.46">O</text><text transform="translate(178.1,752.1) rotate(-32)" y="4.46">O</text><text transform="translate(157.9,701.7) rotate(-32)" y="4.46">N</text><text transform="translate(142.2,687.7) rotate(-32)" y="4.46">H</text><text transform="translate(241,698.7) rotate(0)" y="4.46">S</text><text transform="translate(251.7,717.2) rotate(-32)" y="4.46">O</text><text transform="translate(236.5,678.5) rotate(-32)" y="4.46">O</text><text transform="translate(252.2,680.2) rotate(-32)" y="4.46">O</text><text transform="translate(17.7,762) rotate(-32)" y="4.46" font-size="13.27">Na<tspan font-size="8.68" dy="-4.71">+</tspan></text><text transform="translate(269,701.4) rotate(-32)" y="4.46" font-size="13.27">Na<tspan font-size="8.68" dy="-4.71">+</tspan></text></g>
<g font-family="'Liberation Sans',Arial,sans-serif" font-weight="bold" font-size="15" fill="#ff0000" text-anchor="middle"><text x="132.4" y="769.8">+</text><text x="157.6" y="695.2">+</text></g>
<path d="M466.81,694.44L480.45,709.17 M564.39,768.76L550.75,754.03 M480.45,709.17L474.51,728.35 M550.75,754.03L556.69,734.85 M474.51,728.35L454.93,732.79 M556.69,734.85L576.27,730.41 M454.93,732.79L441.29,718.06 M576.27,730.41L589.91,745.14 M441.29,718.06L447.23,698.88 M589.91,745.14L583.97,764.32 M447.23,698.88L466.81,694.44 M583.97,764.32L564.39,768.76 M480.45,709.17L499.75,709.88 M550.75,754.03L531.45,753.32 M499.75,709.88L506.16,727.82 M531.45,753.32L525.04,735.38 M506.16,727.82L493.38,737.47 M525.04,735.38L537.82,725.73 M485.89,737.37L474.51,728.35 M545.31,725.83L556.69,734.85 M500.89,710.73L509.83,698.66 M498.61,709.04L507.55,696.96 M530.31,752.47L521.37,764.54 M532.59,754.16L523.65,766.24 M489.69,745.05L489.89,755.88 M541.51,718.15L541.31,707.32 M447.23,698.88L437.25,688 M583.97,764.32L593.95,775.2 M436.8,680.4L439.92,670.29 M434.09,679.56L437.21,669.45 M594.4,782.8L591.28,792.91 M597.11,783.64L593.99,793.75 M430.19,687.6L424.54,695.77 M432.52,689.21L426.87,697.39 M601.01,775.6L606.66,767.43 M598.68,773.99L604.33,765.81 M429.41,685.46L418.81,687.64 M601.79,777.74L612.39,775.56 M505.63,729.14L524.51,736.7 M506.69,726.5L525.57,734.06 M466.63,699.26L475.63,708.98 M470.43,725.78L457.51,728.71 M445.56,715.81L449.48,703.15 M576.08,735.23L585.09,744.95 M579.89,761.75L566.96,764.68 M555.02,751.78L558.94,739.12" stroke="#111" stroke-width="1.34" fill="none" stroke-linecap="round"/>
<path d="M494.59,761.66L514.42,767.76 M536.61,701.54L516.78,695.44" stroke="#111" stroke-width="1.41" fill="none" stroke-dasharray="2.3,2"/>
<path d="M405.99,683.02L410.74,684.31 M623.88,772.8L628.63,774.09" stroke="#111" stroke-width="1.23"/>
<g font-family="'Liberation Sans',Arial,sans-serif" font-size="11.74" fill="#111" stroke="#111" stroke-width="0.35" text-anchor="middle"><text transform="translate(511.62,693.85) rotate(15.2) skewX(-12)" y="4.23">O</text><text transform="translate(489.6,740.32) rotate(15.2) skewX(-12)" y="4.23">N</text><text transform="translate(489.97,760.24) rotate(15.2) skewX(-12)" y="4.23">H</text><text transform="translate(434.05,684.51) rotate(0) skewX(-12)" y="4.23">S</text><text transform="translate(440.02,665.17) rotate(15.2) skewX(-12)" y="4.23">O</text><text transform="translate(422.91,700.63) rotate(15.2) skewX(-12)" y="4.23">O</text><text transform="translate(413.98,688.63) rotate(15.2) skewX(-12)" y="4.23">O</text><text transform="translate(519.58,769.35) rotate(15.2) skewX(-12)" y="4.23">O</text><text transform="translate(541.6,722.88) rotate(15.2) skewX(-12)" y="4.23">N</text><text transform="translate(541.23,702.96) rotate(15.2) skewX(-12)" y="4.23">H</text><text transform="translate(597.15,778.69) rotate(0) skewX(-12)" y="4.23">S</text><text transform="translate(591.18,798.03) rotate(15.2) skewX(-12)" y="4.23">O</text><text transform="translate(608.29,762.57) rotate(15.2) skewX(-12)" y="4.23">O</text><text transform="translate(617.22,774.57) rotate(15.2) skewX(-12)" y="4.23">O</text><text transform="translate(409.49,664.26) rotate(15.2) skewX(-12)" y="4.23" font-size="12.56">Na<tspan font-size="8.22" dy="-4.46">+</tspan></text><text transform="translate(617.79,799.19) rotate(15.2) skewX(-12)" y="4.23" font-size="12.56">Na<tspan font-size="8.22" dy="-4.46">+</tspan></text></g>
<g font-family="'Liberation Sans',Arial,sans-serif" font-weight="bold" font-size="15" fill="#ff0000" text-anchor="middle"><text x="479.5" y="745.3">+</text><text x="550.6" y="722.4">+</text></g>
<path d="M89.16,950.69L104.52,964.04 M195.64,1014.91L180.28,1001.56 M104.52,964.04L100.64,984.02 M180.28,1001.56L184.16,981.58 M100.64,984.02L81.39,990.65 M184.16,981.58L203.41,974.95 M81.39,990.65L66.03,977.29 M203.41,974.95L218.77,988.31 M66.03,977.29L69.92,957.32 M218.77,988.31L214.88,1008.28 M69.92,957.32L89.16,950.69 M214.88,1008.28L195.64,1014.91 M104.52,964.04L124.05,962.65 M180.28,1001.56L160.75,1002.95 M124.05,962.65L132.47,980.02 M160.75,1002.95L152.33,985.58 M132.47,980.02L120.65,991.14 M152.33,985.58L164.15,974.46 M113.09,991.87L100.64,984.02 M171.71,973.73L184.16,981.58 M125.29,963.38L132.98,950.23 M122.8,961.92L130.49,948.78 M159.51,1002.22L151.82,1015.37 M162,1003.68L154.31,1016.82 M117.76,999.19L119.15,1010.08 M167.04,966.41L165.65,955.52 M69.92,957.32L58.66,947.43 M214.88,1008.28L226.14,1018.17 M57.38,939.83L59.42,929.3 M54.55,939.28L56.59,928.75 M227.42,1025.77L225.38,1036.3 M230.25,1026.32L228.21,1036.85 M51.5,947.8L46.7,956.66 M54.03,949.17L49.24,958.03 M233.3,1017.8L238.1,1008.94 M230.77,1016.43L235.56,1007.57 M50.48,945.74L40.04,949.09 M234.32,1019.86L244.76,1016.51 M132.09,981.41L151.94,986.96 M132.86,978.64L152.71,984.19 M89.5,955.57L99.64,964.38 M96.24,981.88L83.54,986.25 M70.09,974.56L72.65,961.37 M203.75,979.83L213.89,988.65 M210.49,1006.14L197.79,1010.52 M184.33,998.82L186.9,985.64" stroke="#111" stroke-width="1.36" fill="none" stroke-linecap="round"/>
<path d="M124.52,1015.39L145.17,1019.37 M160.28,950.21L139.63,946.23" stroke="#111" stroke-width="1.43" fill="none" stroke-dasharray="2.3,2"/>
<path d="M25.98,947.26L30.97,947.26 M255.56,1011.48L260.55,1011.48" stroke="#111" stroke-width="1.25"/>
<g font-family="'Liberation Sans',Arial,sans-serif" font-size="11.9" fill="#111" stroke="#111" stroke-width="0.35" text-anchor="middle"><text transform="translate(134.26,945.19) rotate(0)" y="4.29">O</text><text transform="translate(117.15,994.43) rotate(0)" y="4.29">N</text><text transform="translate(119.71,1014.46) rotate(0)" y="4.29">H</text><text transform="translate(55.05,944.27) rotate(0)" y="4.29">S</text><text transform="translate(58.95,924.13) rotate(0)" y="4.29">O</text><text transform="translate(45.59,961.74) rotate(0)" y="4.29">O</text><text transform="translate(35.29,950.62) rotate(0)" y="4.29">O</text><text transform="translate(150.54,1020.41) rotate(0)" y="4.29">O</text><text transform="translate(167.65,971.17) rotate(0)" y="4.29">N</text><text transform="translate(165.09,951.14) rotate(0)" y="4.29">H</text><text transform="translate(229.75,1021.33) rotate(0)" y="4.29">S</text><text transform="translate(225.85,1041.47) rotate(0)" y="4.29">O</text><text transform="translate(239.21,1003.86) rotate(0)" y="4.29">O</text><text transform="translate(249.51,1014.98) rotate(0)" y="4.29">O</text><text transform="translate(28.09,926.56) rotate(0) skewX(-12)" y="4.29" font-size="12.74">Na<tspan font-size="8.33" dy="-4.52">+</tspan></text><text transform="translate(252.63,1040.92) rotate(0) skewX(-12)" y="4.29" font-size="12.74">Na<tspan font-size="8.33" dy="-4.52">+</tspan></text></g>
<g font-family="'Liberation Sans',Arial,sans-serif" font-weight="bold" font-size="15" fill="#ff0000" text-anchor="middle"><text x="107.6" y="998.5">+</text><text x="175.7" y="967.4">+</text></g>
<path d="M519.9,973.31L540.04,971.97 M639.7,944.09L619.56,945.43 M540.04,971.97L551.26,988.74 M619.56,945.43L608.34,928.66 M551.26,988.74L542.35,1006.85 M608.34,928.66L617.25,910.55 M542.35,1006.85L522.22,1008.19 M617.25,910.55L637.38,909.21 M522.22,1008.19L510.99,991.42 M637.38,909.21L648.61,925.98 M510.99,991.42L519.9,973.31 M648.61,925.98L639.7,944.09 M540.04,971.97L552.8,957.34 M619.56,945.43L606.8,960.06 M552.8,957.34L570.88,963.68 M606.8,960.06L588.72,953.72 M570.88,963.68L570.32,979.77 M588.72,953.72L589.28,937.63 M565.52,985.56L551.26,988.74 M594.08,931.84L608.34,928.66 M554.19,956.99L550.41,942.36 M551.42,957.7L547.65,943.08 M605.41,960.41L609.19,975.04 M608.18,959.7L611.95,974.32 M573.92,987.45L582.5,994.14 M585.68,929.95L577.1,923.26 M510.99,991.42L496.16,992.33 M648.61,925.98L663.44,925.07 M489.95,987.87L484.03,979.04 M487.58,989.46L481.65,980.63 M669.65,929.53L675.57,938.36 M672.02,927.94L677.95,936.77 M491.38,997.59L494.2,1007.18 M494.12,996.79L496.94,1006.37 M668.22,919.81L665.4,910.22 M665.48,920.61L662.66,911.03 M489.22,996.85L484.22,1006.51 M670.38,920.55L675.38,910.89 M571.57,964.93L589.42,954.97 M570.18,962.43L588.03,952.47 M523.55,976.5L536.84,975.62 M546.67,990.31L540.79,1002.26 M523.15,1003.43L515.74,992.36 M620.9,913.74L634.19,912.86 M644.02,927.55L638.14,939.5 M620.5,940.67L613.09,929.6" stroke="#111" stroke-width="1.35" fill="none" stroke-linecap="round"/>
<path d="M589.99,994.13L607.3,982.5 M569.61,923.27L552.3,934.9" stroke="#111" stroke-width="1.42" fill="none" stroke-dasharray="2.3,2"/>
<path d="M472.5,1013.6L476.52,1010.7 M680.49,900.17L684.5,897.28" stroke="#111" stroke-width="1.24"/>
<g font-family="'Liberation Sans',Arial,sans-serif" font-size="11.8" fill="#111" stroke="#111" stroke-width="0.35" text-anchor="middle"><text transform="translate(547.79,937.93) rotate(-35.8)" y="4.25">O</text><text transform="translate(570.16,984.53) rotate(-35.8)" y="4.25">N</text><text transform="translate(585.96,996.84) rotate(-35.8)" y="4.25">H</text><text transform="translate(491.41,992.62) rotate(0)" y="4.25">S</text><text transform="translate(480.08,975.72) rotate(-35.8)" y="4.25">O</text><text transform="translate(496.96,1011.53) rotate(-35.8)" y="4.25">O</text><text transform="translate(481.94,1010.9) rotate(-35.8)" y="4.25">O</text><text transform="translate(611.81,979.47) rotate(-35.8)" y="4.25">O</text><text transform="translate(589.44,932.87) rotate(-35.8)" y="4.25">N</text><text transform="translate(573.64,920.56) rotate(-35.8)" y="4.25">H</text><text transform="translate(668.19,924.78) rotate(0)" y="4.25">S</text><text transform="translate(679.52,941.68) rotate(-35.8)" y="4.25">O</text><text transform="translate(662.64,905.87) rotate(-35.8)" y="4.25">O</text><text transform="translate(677.66,906.5) rotate(-35.8)" y="4.25">O</text><text transform="translate(460.07,999) rotate(-35.8)" y="4.25" font-size="12.63">Na<tspan font-size="8.26" dy="-4.49">+</tspan></text><text transform="translate(694.95,925.58) rotate(-35.8)" y="4.25" font-size="12.63">Na<tspan font-size="8.26" dy="-4.49">+</tspan></text></g>
<g font-family="'Liberation Sans',Arial,sans-serif" font-weight="bold" font-size="15" fill="#ff0000" text-anchor="middle"><text x="564.5" y="998.7">+</text><text x="589.7" y="926">+</text></g>
<text x="217" y="780.7" font-family="'Liberation Sans',Arial,sans-serif" font-weight="bold" font-size="18" fill="#000">Cellulose Acetate</text>
<g fill="#f7a41d"><path d="M132.32,770.31 L132.22,770.66 L132.08,771.07 L131.89,771.57 L131.68,772.14 L131.45,772.78 L131.21,773.48 L130.99,774.24 L130.79,775.04 L130.62,775.88 L130.5,776.77 L130.45,777.68 L130.48,778.61 L130.57,779.55 L130.68,780.55 L130.83,781.62 L131.02,782.73 L131.24,783.88 L131.5,785.04 L131.81,786.21 L132.15,787.38 L132.54,788.52 L132.98,789.63 L133.48,790.69 L134.03,791.7 L134.66,792.64 L135.36,793.55 L136.12,794.4 L136.92,795.22 L137.78,795.96 L138.66,796.66 L139.55,797.32 L140.44,797.95 L141.32,798.53 L142.17,799.08 L142.98,799.59 L143.75,800.07 L144.55,800.54 L145.4,801.03 L146.28,801.51 L147.18,801.96 L148.09,802.39 L148.97,802.78 L149.84,803.11 L150.68,803.39 L151.5,803.58 L152.35,803.67 L153.32,803.56 L154.5,802.84 L155.08,801.44 L154.97,800.37 L154.68,799.54 L154.31,798.75 L153.88,797.95 L153.44,797.12 L152.99,796.3 L152.59,795.49 L152.25,794.73 L152.02,794.07 L151.91,793.57 L151.9,793.22 L151.97,792.81 L152.12,792.27 L152.33,791.68 L152.61,791.07 L152.93,790.45 L153.3,789.84 L153.7,789.24 L154.13,788.68 L154.58,788.15 L155.02,787.68 L155.45,787.28 L155.85,786.96 L156.24,786.7 L156.67,786.47 L157.12,786.27 L157.6,786.11 L158.12,785.97 L158.65,785.86 L159.21,785.78 L159.78,785.74 L160.36,785.72 L160.95,785.74 L161.54,785.78 L162.12,785.85 L162.72,785.96 L163.37,786.1 L164.06,786.29 L164.78,786.51 L165.49,786.77 L166.2,787.06 L166.88,787.37 L167.51,787.7 L168.09,788.04 L168.59,788.37 L169,788.7 L169.31,789 L169.56,789.32 L169.79,789.71 L170.01,790.16 L170.2,790.65 L170.36,791.19 L170.49,791.75 L170.58,792.33 L170.64,792.91 L170.66,793.48 L170.64,794.03 L170.59,794.54 L170.52,794.98 L170.41,795.4 L170.26,795.84 L170.05,796.3 L169.8,796.77 L169.5,797.24 L169.17,797.71 L168.81,798.17 L168.42,798.61 L168.02,799.02 L167.6,799.4 L167.18,799.74 L166.79,800.03 L166.39,800.26 L165.95,800.48 L165.43,800.68 L164.87,800.86 L164.27,801.02 L163.64,801.16 L163,801.28 L162.35,801.39 L161.7,801.48 L161.07,801.56 L160.47,801.63 L159.94,801.7 L159.5,801.73 L159.07,801.72 L158.6,801.69 L158.1,801.63 L157.6,801.55 L157.1,801.47 L156.6,801.38 L156.11,801.3 L155.62,801.24 L155.1,801.21 L154.43,801.3 L153.63,801.69 L153.02,802.42 L152.79,803.23 L152.84,803.93 L153.02,804.48 L153.26,804.92 L153.53,805.31 L153.84,805.67 L154.18,806.03 L154.55,806.4 L154.96,806.77 L155.41,807.16 L155.9,807.55 L156.43,807.97 L157.03,808.44 L157.69,808.94 L158.41,809.48 L159.18,810.03 L159.99,810.6 L160.84,811.18 L161.72,811.76 L162.62,812.33 L163.55,812.88 L164.5,813.41 L165.44,813.9 L166.41,814.37 L167.42,814.82 L168.46,815.28 L169.53,815.72 L170.62,816.15 L171.73,816.56 L172.84,816.96 L173.95,817.34 L175.05,817.69 L176.13,818.02 L177.18,818.31 L178.2,818.58 L179.18,818.81 L180.14,819.03 L181.08,819.22 L182.01,819.39 L182.94,819.53 L183.86,819.65 L184.78,819.74 L185.69,819.81 L186.61,819.85 L187.54,819.86 L188.47,819.84 L189.41,819.78 L190.38,819.69 L191.34,819.56 L192.31,819.39 L193.28,819.2 L194.24,818.98 L195.19,818.73 L196.13,818.46 L197.07,818.18 L197.99,817.88 L198.89,817.58 L199.77,817.26 L200.64,816.94 L201.55,816.58 L202.48,816.18 L203.41,815.73 L204.34,815.27 L205.26,814.79 L206.14,814.32 L206.99,813.85 L207.78,813.41 L208.5,813.01 L209.13,812.65 L209.67,812.36 L210.1,812.13 L208.7,809.47 L208.24,809.71 L207.68,810.02 L207.03,810.37 L206.31,810.77 L205.53,811.2 L204.71,811.64 L203.85,812.1 L202.97,812.55 L202.09,812.98 L201.21,813.38 L200.37,813.74 L199.56,814.06 L198.73,814.35 L197.88,814.65 L197.02,814.93 L196.15,815.21 L195.27,815.47 L194.38,815.71 L193.5,815.93 L192.62,816.13 L191.74,816.3 L190.88,816.44 L190.03,816.55 L189.19,816.62 L188.35,816.66 L187.52,816.67 L186.7,816.66 L185.89,816.62 L185.07,816.55 L184.24,816.46 L183.41,816.35 L182.56,816.21 L181.7,816.04 L180.82,815.86 L179.92,815.65 L179,815.42 L178.05,815.17 L177.06,814.88 L176.04,814.56 L175,814.22 L173.94,813.85 L172.88,813.46 L171.83,813.06 L170.79,812.64 L169.77,812.21 L168.79,811.77 L167.84,811.33 L166.96,810.9 L166.1,810.45 L165.25,809.96 L164.4,809.45 L163.56,808.91 L162.74,808.36 L161.95,807.81 L161.19,807.26 L160.47,806.72 L159.79,806.2 L159.16,805.71 L158.6,805.25 L158.1,804.85 L157.67,804.49 L157.29,804.15 L156.97,803.85 L156.7,803.58 L156.49,803.35 L156.34,803.17 L156.26,803.06 L156.26,803.04 L156.3,803.18 L156.32,803.53 L156.18,804.03 L155.77,804.51 L155.31,804.74 L155.16,804.77 L155.29,804.78 L155.58,804.82 L155.97,804.89 L156.45,804.98 L157,805.09 L157.59,805.18 L158.22,805.27 L158.89,805.33 L159.59,805.34 L160.26,805.3 L160.87,805.24 L161.5,805.17 L162.17,805.1 L162.87,805.01 L163.61,804.9 L164.36,804.77 L165.12,804.61 L165.88,804.42 L166.64,804.19 L167.39,803.91 L168.12,803.57 L168.81,803.17 L169.44,802.73 L170.03,802.26 L170.61,801.75 L171.16,801.2 L171.69,800.62 L172.19,800.01 L172.66,799.37 L173.08,798.71 L173.47,798.02 L173.8,797.3 L174.07,796.56 L174.28,795.82 L174.42,795.06 L174.5,794.29 L174.53,793.5 L174.52,792.69 L174.45,791.87 L174.33,791.05 L174.16,790.23 L173.93,789.41 L173.64,788.62 L173.27,787.84 L172.83,787.1 L172.29,786.4 L171.67,785.76 L170.98,785.18 L170.23,784.67 L169.44,784.2 L168.61,783.78 L167.76,783.39 L166.9,783.05 L166.02,782.75 L165.16,782.48 L164.3,782.26 L163.48,782.08 L162.68,781.95 L161.91,781.86 L161.13,781.81 L160.35,781.79 L159.56,781.82 L158.77,781.89 L157.98,782 L157.2,782.17 L156.43,782.38 L155.68,782.65 L154.94,782.99 L154.22,783.38 L153.55,783.84 L152.9,784.36 L152.28,784.95 L151.69,785.59 L151.11,786.28 L150.56,787.01 L150.05,787.78 L149.58,788.59 L149.15,789.42 L148.78,790.26 L148.47,791.13 L148.24,792.01 L148.1,792.98 L148.14,794.07 L148.38,795.14 L148.74,796.15 L149.17,797.12 L149.65,798.05 L150.13,798.93 L150.57,799.73 L150.95,800.44 L151.23,801 L151.35,801.32 L151.36,801.15 L151.7,800.36 L152.29,799.97 L152.4,799.94 L152.16,799.91 L151.69,799.81 L151.08,799.61 L150.38,799.35 L149.61,799.02 L148.8,798.64 L147.98,798.23 L147.17,797.81 L146.39,797.37 L145.65,796.93 L144.9,796.48 L144.11,795.99 L143.3,795.48 L142.48,794.94 L141.67,794.38 L140.86,793.79 L140.08,793.17 L139.33,792.54 L138.6,791.91 L137.92,791.26 L137.31,790.59 L136.77,789.9 L136.27,789.15 L135.79,788.3 L135.34,787.37 L134.91,786.38 L134.51,785.35 L134.15,784.3 L133.82,783.23 L133.52,782.17 L133.27,781.14 L133.04,780.16 L132.86,779.23 L132.72,778.39 L132.63,777.63 L132.62,776.89 L132.66,776.14 L132.74,775.4 L132.86,774.68 L133.01,773.98 L133.18,773.31 L133.35,772.69 L133.52,772.1 L133.67,771.57 L133.8,771.09 L133.88,770.69Z"/><circle cx="133.1" cy="770.5" r="0.8"/><circle cx="209.4" cy="810.8" r="1.5"/><path d="M198.6,811 L209.4,810.8 L208.6,820.9" fill="none" stroke="#f7a41d" stroke-width="3.2" stroke-linecap="round" stroke-linejoin="round"/><path d="M462.93,736.5 L462.55,736.09 L462.09,735.55 L461.52,734.87 L460.86,734.07 L460.13,733.2 L459.33,732.28 L458.46,731.33 L457.53,730.37 L456.55,729.43 L455.51,728.53 L454.4,727.69 L453.26,726.96 L452.11,726.34 L450.93,725.76 L449.7,725.22 L448.42,724.71 L447.11,724.24 L445.77,723.81 L444.41,723.42 L443.05,723.07 L441.68,722.76 L440.31,722.51 L438.96,722.3 L437.63,722.15 L436.31,722.06 L434.98,722.02 L433.65,722.03 L432.32,722.08 L430.99,722.19 L429.67,722.34 L428.36,722.53 L427.06,722.76 L425.77,723.04 L424.5,723.35 L423.26,723.7 L422.04,724.09 L420.85,724.49 L419.66,724.92 L418.44,725.39 L417.23,725.89 L416.01,726.45 L414.81,727.05 L413.62,727.71 L412.46,728.44 L411.33,729.24 L410.24,730.12 L409.21,731.09 L408.26,732.14 L407.37,733.26 L406.51,734.48 L405.67,735.78 L404.86,737.16 L404.1,738.6 L403.4,740.08 L402.77,741.61 L402.24,743.15 L401.81,744.7 L401.49,746.26 L401.33,747.81 L401.33,749.35 L401.53,750.89 L401.93,752.43 L402.47,753.93 L403.13,755.41 L403.9,756.85 L404.74,758.24 L405.65,759.56 L406.6,760.81 L407.57,761.96 L408.56,763 L409.55,763.91 L410.56,764.71 L411.64,765.36 L412.79,765.88 L413.97,766.24 L415.17,766.47 L416.36,766.58 L417.55,766.58 L418.71,766.49 L419.85,766.3 L420.95,766.04 L422,765.69 L423.01,765.28 L423.96,764.78 L424.89,764.15 L425.78,763.42 L426.61,762.59 L427.4,761.69 L428.14,760.72 L428.83,759.7 L429.45,758.65 L430.02,757.56 L430.51,756.45 L430.91,755.34 L431.23,754.22 L431.44,753.1 L431.52,751.97 L431.5,750.83 L431.38,749.68 L431.18,748.54 L430.9,747.4 L430.55,746.29 L430.14,745.2 L429.67,744.14 L429.14,743.12 L428.57,742.16 L427.94,741.26 L427.26,740.42 L426.5,739.65 L425.68,738.96 L424.8,738.35 L423.89,737.8 L422.94,737.31 L421.96,736.88 L420.97,736.5 L419.97,736.16 L418.95,735.87 L417.94,735.6 L416.93,735.37 L415.92,735.16 L414.88,734.98 L413.81,734.83 L412.71,734.71 L411.59,734.63 L410.46,734.58 L409.32,734.57 L408.17,734.59 L407.01,734.65 L405.86,734.74 L404.7,734.86 L403.56,735.02 L402.43,735.21 L401.32,735.42 L400.2,735.66 L399.06,735.93 L397.92,736.23 L396.77,736.56 L395.62,736.93 L394.47,737.35 L393.32,737.81 L392.19,738.32 L391.06,738.88 L389.96,739.5 L388.87,740.17 L387.82,740.9 L386.77,741.69 L385.74,742.52 L384.73,743.41 L383.74,744.33 L382.76,745.3 L381.81,746.29 L380.89,747.32 L379.99,748.37 L379.12,749.45 L378.28,750.54 L377.47,751.65 L376.69,752.8 L375.93,754 L375.2,755.25 L374.5,756.53 L373.82,757.82 L373.18,759.13 L372.56,760.45 L371.98,761.75 L371.43,763.05 L370.92,764.31 L370.44,765.55 L370,766.74 L369.59,767.9 L369.22,769.04 L368.89,770.15 L368.59,771.25 L368.32,772.34 L368.09,773.42 L367.88,774.5 L367.7,775.57 L367.55,776.65 L367.43,777.75 L367.32,778.85 L367.24,779.99 L367.2,781.21 L367.2,782.51 L367.25,783.86 L367.33,785.22 L367.44,786.58 L367.56,787.91 L367.69,789.2 L367.83,790.41 L367.95,791.51 L368.06,792.49 L368.15,793.3 L368.21,793.95 L371.79,793.65 L371.74,792.97 L371.66,792.11 L371.55,791.12 L371.44,790.02 L371.32,788.83 L371.2,787.57 L371.09,786.28 L371,784.98 L370.94,783.7 L370.9,782.45 L370.91,781.29 L370.96,780.21 L371.04,779.18 L371.15,778.15 L371.27,777.14 L371.42,776.15 L371.59,775.17 L371.79,774.19 L372.01,773.21 L372.26,772.22 L372.55,771.22 L372.86,770.19 L373.21,769.14 L373.6,768.06 L374.03,766.93 L374.5,765.75 L375,764.55 L375.54,763.32 L376.1,762.08 L376.7,760.84 L377.32,759.61 L377.96,758.4 L378.63,757.22 L379.31,756.08 L380.01,754.99 L380.73,753.95 L381.47,752.95 L382.26,751.94 L383.07,750.96 L383.91,750 L384.77,749.06 L385.65,748.15 L386.54,747.28 L387.45,746.45 L388.37,745.67 L389.29,744.93 L390.21,744.25 L391.13,743.63 L392.04,743.07 L392.99,742.55 L393.95,742.08 L394.94,741.65 L395.94,741.26 L396.96,740.9 L397.98,740.58 L399.02,740.29 L400.06,740.03 L401.1,739.79 L402.14,739.58 L403.17,739.39 L404.18,739.23 L405.2,739.1 L406.23,739 L407.26,738.93 L408.29,738.89 L409.32,738.88 L410.33,738.9 L411.33,738.95 L412.31,739.03 L413.26,739.14 L414.18,739.27 L415.08,739.44 L415.98,739.64 L416.88,739.85 L417.77,740.09 L418.63,740.35 L419.47,740.64 L420.27,740.96 L421.03,741.3 L421.74,741.66 L422.38,742.05 L422.97,742.47 L423.49,742.91 L423.94,743.38 L424.38,743.92 L424.82,744.56 L425.24,745.28 L425.64,746.06 L426,746.88 L426.31,747.74 L426.58,748.6 L426.78,749.46 L426.93,750.3 L427.01,751.1 L427.02,751.84 L426.96,752.5 L426.83,753.17 L426.61,753.93 L426.31,754.74 L425.93,755.58 L425.49,756.43 L424.99,757.26 L424.44,758.05 L423.87,758.79 L423.29,759.46 L422.71,760.03 L422.15,760.48 L421.64,760.82 L421.07,761.11 L420.42,761.38 L419.71,761.61 L418.95,761.78 L418.17,761.91 L417.38,761.97 L416.59,761.96 L415.83,761.89 L415.11,761.74 L414.43,761.53 L413.81,761.25 L413.24,760.89 L412.6,760.38 L411.85,759.69 L411.06,758.84 L410.25,757.88 L409.46,756.82 L408.7,755.7 L407.99,754.53 L407.37,753.34 L406.85,752.17 L406.46,751.04 L406.19,749.99 L406.07,749.05 L406.08,748.09 L406.2,747 L406.45,745.83 L406.8,744.59 L407.25,743.32 L407.79,742.03 L408.4,740.75 L409.06,739.5 L409.76,738.31 L410.49,737.18 L411.23,736.16 L411.94,735.26 L412.65,734.48 L413.42,733.77 L414.25,733.1 L415.14,732.47 L416.08,731.89 L417.07,731.34 L418.1,730.83 L419.16,730.35 L420.24,729.9 L421.35,729.48 L422.46,729.09 L423.56,728.71 L424.65,728.37 L425.74,728.07 L426.86,727.8 L427.99,727.56 L429.14,727.35 L430.29,727.19 L431.45,727.06 L432.61,726.98 L433.76,726.93 L434.91,726.93 L436.05,726.96 L437.17,727.05 L438.31,727.18 L439.48,727.36 L440.68,727.59 L441.89,727.86 L443.11,728.17 L444.32,728.53 L445.5,728.92 L446.66,729.34 L447.78,729.79 L448.84,730.26 L449.84,730.75 L450.74,731.24 L451.56,731.76 L452.37,732.38 L453.2,733.1 L454.02,733.89 L454.82,734.73 L455.6,735.58 L456.33,736.44 L457.03,737.27 L457.67,738.05 L458.26,738.76 L458.81,739.4 L459.27,739.9Z"/><circle cx="461.1" cy="738.2" r="2.5"/><circle cx="370" cy="793.8" r="1.8"/><path d="M358.2,783.8 L370,793.8 L376.4,780.1" fill="none" stroke="#f7a41d" stroke-width="3.8" stroke-linecap="round" stroke-linejoin="round"/><path d="M183.3,974.72 L183.91,975.01 L184.66,975.41 L185.54,975.89 L186.55,976.45 L187.65,977.05 L188.85,977.67 L190.11,978.3 L191.43,978.9 L192.8,979.47 L194.21,979.98 L195.64,980.4 L197.07,980.72 L198.51,980.94 L200,981.12 L201.55,981.26 L203.14,981.35 L204.77,981.4 L206.42,981.4 L208.08,981.36 L209.73,981.28 L211.37,981.14 L212.97,980.96 L214.53,980.72 L216.03,980.43 L217.49,980.09 L218.92,979.7 L220.32,979.22 L221.7,978.7 L223.05,978.12 L224.38,977.5 L225.68,976.84 L226.94,976.13 L228.17,975.39 L229.37,974.6 L230.53,973.78 L231.66,972.92 L232.77,971.99 L233.87,971.01 L234.94,969.97 L235.99,968.88 L237.01,967.75 L237.98,966.59 L238.9,965.41 L239.77,964.21 L240.58,963 L241.32,961.78 L241.98,960.56 L242.56,959.35 L243.05,958.12 L243.46,956.87 L243.78,955.62 L244.01,954.38 L244.18,953.14 L244.28,951.91 L244.31,950.69 L244.3,949.5 L244.23,948.32 L244.12,947.17 L243.97,946.05 L243.79,944.95 L243.56,943.84 L243.28,942.69 L242.94,941.54 L242.55,940.38 L242.1,939.24 L241.59,938.12 L241.03,937.03 L240.41,935.97 L239.73,934.96 L238.99,934.01 L238.16,933.14 L237.25,932.35 L236.26,931.67 L235.21,931.11 L234.13,930.65 L233,930.28 L231.86,929.99 L230.7,929.78 L229.53,929.64 L228.37,929.59 L227.21,929.6 L226.07,929.69 L224.95,929.86 L223.85,930.12 L222.77,930.48 L221.7,930.94 L220.66,931.49 L219.64,932.1 L218.66,932.78 L217.7,933.52 L216.79,934.31 L215.93,935.13 L215.12,936 L214.38,936.9 L213.71,937.83 L213.13,938.8 L212.63,939.83 L212.24,940.9 L211.92,942 L211.68,943.11 L211.52,944.24 L211.42,945.37 L211.38,946.5 L211.4,947.61 L211.48,948.7 L211.62,949.76 L211.82,950.78 L212.07,951.75 L212.39,952.66 L212.75,953.55 L213.18,954.42 L213.67,955.27 L214.22,956.1 L214.84,956.89 L215.53,957.65 L216.29,958.35 L217.12,959.01 L218.01,959.61 L218.97,960.15 L219.98,960.63 L221.06,961.04 L222.22,961.42 L223.45,961.76 L224.75,962.06 L226.11,962.32 L227.51,962.53 L228.93,962.69 L230.36,962.78 L231.79,962.81 L233.21,962.76 L234.61,962.62 L235.95,962.39 L237.24,962.07 L238.47,961.67 L239.66,961.2 L240.82,960.65 L241.95,960.05 L243.06,959.39 L244.15,958.67 L245.23,957.91 L246.32,957.11 L247.4,956.26 L248.51,955.39 L249.64,954.47 L250.81,953.49 L252.03,952.44 L253.28,951.32 L254.55,950.15 L255.83,948.93 L257.12,947.66 L258.39,946.36 L259.66,945.02 L260.91,943.66 L262.12,942.29 L263.3,940.89 L264.42,939.49 L265.5,938.05 L266.57,936.57 L267.63,935.04 L268.67,933.48 L269.68,931.9 L270.66,930.29 L271.6,928.68 L272.49,927.07 L273.34,925.47 L274.13,923.89 L274.85,922.34 L275.51,920.82 L276.11,919.33 L276.65,917.85 L277.15,916.38 L277.6,914.92 L278,913.46 L278.34,912.02 L278.63,910.59 L278.87,909.17 L279.04,907.76 L279.16,906.37 L279.21,905 L279.2,903.62 L279.07,902.19 L278.82,900.74 L278.46,899.29 L278.03,897.87 L277.54,896.49 L277.02,895.17 L276.49,893.91 L275.98,892.74 L275.51,891.69 L275.09,890.76 L274.77,890 L274.54,889.39 L271.26,890.61 L271.52,891.3 L271.87,892.16 L272.29,893.11 L272.75,894.16 L273.24,895.29 L273.73,896.48 L274.21,897.72 L274.64,898.98 L275.02,900.24 L275.31,901.47 L275.51,902.65 L275.6,903.78 L275.6,904.93 L275.55,906.14 L275.44,907.38 L275.27,908.63 L275.05,909.92 L274.78,911.22 L274.46,912.54 L274.08,913.88 L273.65,915.24 L273.18,916.61 L272.66,917.99 L272.09,919.38 L271.47,920.8 L270.77,922.25 L270.01,923.75 L269.2,925.27 L268.33,926.81 L267.42,928.35 L266.47,929.88 L265.49,931.4 L264.48,932.89 L263.46,934.35 L262.42,935.76 L261.38,937.11 L260.32,938.43 L259.2,939.74 L258.03,941.05 L256.82,942.33 L255.58,943.58 L254.32,944.8 L253.05,945.98 L251.79,947.12 L250.54,948.22 L249.31,949.25 L248.12,950.22 L246.96,951.13 L245.85,951.99 L244.76,952.81 L243.71,953.58 L242.69,954.3 L241.7,954.95 L240.73,955.55 L239.77,956.09 L238.83,956.56 L237.89,956.97 L236.95,957.31 L236.01,957.59 L235.05,957.81 L234.04,957.95 L232.96,958.02 L231.82,958.03 L230.62,957.97 L229.41,957.86 L228.19,957.69 L227,957.48 L225.84,957.23 L224.74,956.94 L223.72,956.63 L222.8,956.3 L222.02,955.97 L221.35,955.64 L220.75,955.28 L220.2,954.88 L219.7,954.46 L219.25,954.02 L218.84,953.55 L218.46,953.05 L218.12,952.53 L217.82,951.99 L217.55,951.42 L217.32,950.84 L217.13,950.25 L216.97,949.63 L216.85,948.94 L216.76,948.19 L216.71,947.39 L216.71,946.57 L216.74,945.73 L216.83,944.9 L216.96,944.09 L217.13,943.32 L217.35,942.6 L217.6,941.96 L217.87,941.4 L218.22,940.84 L218.66,940.24 L219.19,939.62 L219.79,938.99 L220.45,938.38 L221.15,937.79 L221.87,937.24 L222.61,936.75 L223.35,936.31 L224.06,935.95 L224.73,935.67 L225.35,935.48 L225.97,935.34 L226.68,935.24 L227.44,935.19 L228.23,935.19 L229.04,935.24 L229.85,935.35 L230.64,935.5 L231.4,935.7 L232.1,935.94 L232.74,936.22 L233.29,936.53 L233.75,936.85 L234.18,937.23 L234.62,937.72 L235.08,938.32 L235.53,939.01 L235.97,939.78 L236.38,940.61 L236.77,941.49 L237.13,942.4 L237.46,943.32 L237.76,944.24 L238.01,945.16 L238.21,946.05 L238.39,946.95 L238.53,947.88 L238.65,948.81 L238.73,949.76 L238.77,950.71 L238.76,951.67 L238.71,952.62 L238.61,953.56 L238.45,954.5 L238.24,955.43 L237.97,956.34 L237.64,957.25 L237.22,958.19 L236.71,959.19 L236.11,960.22 L235.45,961.27 L234.72,962.34 L233.93,963.4 L233.1,964.44 L232.23,965.46 L231.33,966.45 L230.41,967.39 L229.47,968.27 L228.54,969.08 L227.58,969.86 L226.58,970.61 L225.54,971.32 L224.47,972.01 L223.37,972.66 L222.25,973.27 L221.09,973.85 L219.91,974.38 L218.7,974.88 L217.47,975.33 L216.23,975.77 L214.97,976.17 L213.66,976.52 L212.28,976.83 L210.83,977.1 L209.33,977.34 L207.8,977.53 L206.25,977.68 L204.71,977.79 L203.17,977.86 L201.67,977.88 L200.22,977.86 L198.83,977.79 L197.53,977.68 L196.28,977.5 L195.01,977.23 L193.71,976.86 L192.41,976.43 L191.13,975.95 L189.88,975.44 L188.69,974.92 L187.56,974.42 L186.53,973.94 L185.59,973.51 L184.77,973.15 L184.1,972.88Z"/><circle cx="183.7" cy="973.8" r="1"/><circle cx="272.9" cy="890" r="1.75"/><path d="M266.5,903.7 L272.9,890 L284.7,893.7" fill="none" stroke="#f7a41d" stroke-width="4.4" stroke-linecap="round" stroke-linejoin="round"/><path d="M563.79,980.24 L564.15,979.4 L564.64,978.35 L565.25,977.09 L565.96,975.65 L566.72,974.06 L567.5,972.36 L568.28,970.57 L569.03,968.72 L569.71,966.84 L570.3,964.93 L570.76,963.02 L571.05,961.17 L571.2,959.39 L571.27,957.62 L571.26,955.83 L571.18,954.02 L571.02,952.2 L570.79,950.38 L570.49,948.55 L570.11,946.73 L569.66,944.91 L569.13,943.11 L568.52,941.32 L567.84,939.57 L567.1,937.84 L566.28,936.11 L565.39,934.38 L564.43,932.64 L563.39,930.92 L562.27,929.21 L561.08,927.52 L559.82,925.86 L558.47,924.23 L557.04,922.64 L555.52,921.11 L553.92,919.64 L552.23,918.21 L550.45,916.8 L548.58,915.42 L546.62,914.06 L544.6,912.74 L542.51,911.47 L540.38,910.25 L538.2,909.09 L535.99,908.01 L533.76,907 L531.52,906.09 L529.28,905.27 L527.01,904.55 L524.69,903.91 L522.33,903.34 L519.94,902.85 L517.53,902.44 L515.1,902.1 L512.68,901.83 L510.27,901.64 L507.88,901.52 L505.52,901.47 L503.21,901.5 L500.93,901.6 L498.65,901.78 L496.32,902.06 L493.98,902.42 L491.64,902.86 L489.33,903.37 L487.05,903.95 L484.84,904.6 L482.71,905.31 L480.69,906.08 L478.77,906.91 L476.99,907.81 L475.34,908.79 L473.84,909.87 L472.48,911.05 L471.25,912.32 L470.16,913.67 L469.21,915.09 L468.4,916.57 L467.75,918.09 L467.24,919.66 L466.88,921.25 L466.68,922.86 L466.63,924.48 L466.73,926.11 L467.02,927.78 L467.48,929.46 L468.09,931.16 L468.83,932.85 L469.69,934.54 L470.68,936.21 L471.77,937.83 L472.97,939.4 L474.29,940.89 L475.71,942.27 L477.25,943.52 L478.91,944.61 L480.66,945.5 L482.5,946.24 L484.43,946.86 L486.43,947.36 L488.49,947.76 L490.59,948.05 L492.71,948.24 L494.83,948.33 L496.93,948.3 L499,948.16 L501.01,947.91 L502.96,947.52 L504.89,946.97 L506.81,946.26 L508.7,945.42 L510.55,944.47 L512.36,943.41 L514.11,942.27 L515.78,941.05 L517.36,939.78 L518.83,938.46 L520.18,937.1 L521.39,935.69 L522.44,934.22 L523.33,932.65 L524.03,931.01 L524.55,929.33 L524.9,927.63 L525.11,925.93 L525.18,924.24 L525.12,922.56 L524.95,920.92 L524.67,919.32 L524.28,917.76 L523.79,916.26 L523.19,914.78 L522.42,913.33 L521.5,911.97 L520.47,910.73 L519.36,909.6 L518.2,908.55 L516.99,907.57 L515.74,906.64 L514.48,905.74 L513.2,904.86 L511.91,903.99 L510.63,903.11 L509.32,902.19 L507.94,901.23 L506.5,900.25 L505.01,899.29 L503.49,898.33 L501.92,897.37 L500.32,896.4 L498.67,895.43 L496.98,894.44 L495.24,893.43 L493.45,892.4 L491.61,891.33 L489.72,890.24 L487.76,889.09 L485.69,887.89 L483.53,886.63 L481.31,885.32 L479.02,883.99 L476.68,882.65 L474.31,881.31 L471.93,879.99 L469.53,878.69 L467.14,877.45 L464.77,876.26 L462.44,875.15 L460.15,874.1 L457.87,873.09 L455.6,872.1 L453.31,871.15 L451.03,870.22 L448.74,869.34 L446.45,868.49 L444.15,867.69 L441.84,866.93 L439.53,866.22 L437.21,865.57 L434.89,864.97 L432.56,864.42 L430.19,863.91 L427.8,863.45 L425.4,863.03 L422.99,862.65 L420.6,862.33 L418.22,862.06 L415.87,861.85 L413.56,861.69 L411.3,861.6 L409.11,861.58 L406.98,861.63 L404.89,861.76 L402.82,861.96 L400.78,862.22 L398.77,862.56 L396.81,862.96 L394.9,863.41 L393.06,863.93 L391.29,864.5 L389.61,865.13 L388.02,865.82 L386.52,866.56 L385.08,867.41 L383.67,868.46 L382.44,869.7 L381.41,871.03 L380.56,872.39 L379.85,873.76 L379.26,875.09 L378.76,876.36 L378.35,877.54 L378,878.58 L377.71,879.44 L377.49,880.04 L377.27,880.5 L383.13,883.3 L383.48,882.58 L383.84,881.66 L384.17,880.71 L384.52,879.71 L384.9,878.68 L385.32,877.65 L385.78,876.64 L386.28,875.7 L386.83,874.84 L387.41,874.1 L388.02,873.5 L388.72,872.99 L389.66,872.47 L390.8,871.92 L392.08,871.39 L393.48,870.89 L394.98,870.42 L396.57,870 L398.24,869.62 L399.97,869.29 L401.75,869.02 L403.56,868.81 L405.39,868.65 L407.22,868.57 L409.11,868.55 L411.09,868.59 L413.15,868.7 L415.28,868.87 L417.46,869.09 L419.68,869.37 L421.93,869.7 L424.19,870.08 L426.45,870.51 L428.7,870.98 L430.92,871.49 L433.11,872.03 L435.26,872.61 L437.41,873.25 L439.57,873.94 L441.73,874.68 L443.89,875.47 L446.06,876.3 L448.23,877.17 L450.41,878.08 L452.59,879.03 L454.78,880.01 L456.98,881.02 L459.16,882.05 L461.36,883.13 L463.59,884.28 L465.86,885.51 L468.15,886.78 L470.46,888.1 L472.76,889.44 L475.03,890.79 L477.28,892.13 L479.48,893.45 L481.62,894.74 L483.69,895.99 L485.68,897.16 L487.58,898.27 L489.42,899.34 L491.2,900.37 L492.92,901.38 L494.58,902.35 L496.18,903.31 L497.73,904.25 L499.22,905.17 L500.65,906.08 L502.03,906.98 L503.36,907.88 L504.68,908.81 L506.01,909.75 L507.34,910.67 L508.62,911.54 L509.83,912.38 L510.95,913.18 L511.99,913.97 L512.92,914.72 L513.74,915.46 L514.43,916.17 L515,916.86 L515.45,917.52 L515.81,918.22 L516.14,919.04 L516.44,919.98 L516.69,920.99 L516.87,922.04 L516.98,923.12 L517.01,924.2 L516.96,925.27 L516.84,926.3 L516.63,927.28 L516.35,928.19 L515.99,929.02 L515.56,929.78 L514.96,930.6 L514.16,931.52 L513.18,932.51 L512.05,933.51 L510.8,934.51 L509.45,935.48 L508.04,936.4 L506.59,937.24 L505.14,937.98 L503.71,938.62 L502.33,939.12 L501.04,939.48 L499.7,939.74 L498.22,939.92 L496.62,940.02 L494.96,940.04 L493.25,939.97 L491.54,939.81 L489.87,939.57 L488.25,939.25 L486.72,938.86 L485.33,938.41 L484.11,937.91 L483.09,937.39 L482.19,936.8 L481.27,936.04 L480.34,935.13 L479.43,934.1 L478.57,932.96 L477.76,931.75 L477.04,930.51 L476.41,929.27 L475.89,928.07 L475.49,926.94 L475.21,925.93 L475.07,925.09 L475,924.3 L475.02,923.48 L475.11,922.65 L475.28,921.81 L475.54,920.98 L475.88,920.15 L476.31,919.33 L476.83,918.52 L477.44,917.75 L478.14,917 L478.95,916.28 L479.86,915.61 L480.94,914.94 L482.26,914.25 L483.78,913.56 L485.47,912.89 L487.29,912.26 L489.22,911.66 L491.23,911.12 L493.28,910.63 L495.36,910.21 L497.44,909.86 L499.48,909.59 L501.47,909.4 L503.47,909.29 L505.54,909.23 L507.66,909.25 L509.82,909.32 L512.01,909.47 L514.21,909.68 L516.41,909.95 L518.59,910.3 L520.74,910.71 L522.86,911.18 L524.93,911.72 L526.92,912.33 L528.9,913.02 L530.9,913.8 L532.91,914.67 L534.92,915.62 L536.91,916.65 L538.87,917.73 L540.79,918.87 L542.66,920.04 L544.45,921.25 L546.17,922.48 L547.78,923.72 L549.28,924.96 L550.69,926.21 L552.03,927.51 L553.32,928.84 L554.56,930.21 L555.73,931.62 L556.84,933.06 L557.89,934.53 L558.87,936.01 L559.79,937.52 L560.64,939.02 L561.43,940.53 L562.16,942.03 L562.81,943.52 L563.4,945.04 L563.92,946.59 L564.39,948.16 L564.78,949.74 L565.12,951.32 L565.39,952.91 L565.59,954.5 L565.73,956.07 L565.8,957.63 L565.81,959.17 L565.75,960.63 L565.59,962.09 L565.28,963.65 L564.84,965.31 L564.3,967.02 L563.69,968.75 L563.02,970.45 L562.34,972.11 L561.67,973.68 L561.03,975.14 L560.45,976.46 L559.97,977.62 L559.61,978.56Z"/><circle cx="561.7" cy="979.4" r="2.25"/><circle cx="380.2" cy="881.9" r="3.25"/><path d="M383.5,860.1 L381.4,882.5 L408.7,881.9" fill="none" stroke="#f7a41d" stroke-width="6.5" stroke-linecap="round" stroke-linejoin="round"/></g>
</svg></body></html>
